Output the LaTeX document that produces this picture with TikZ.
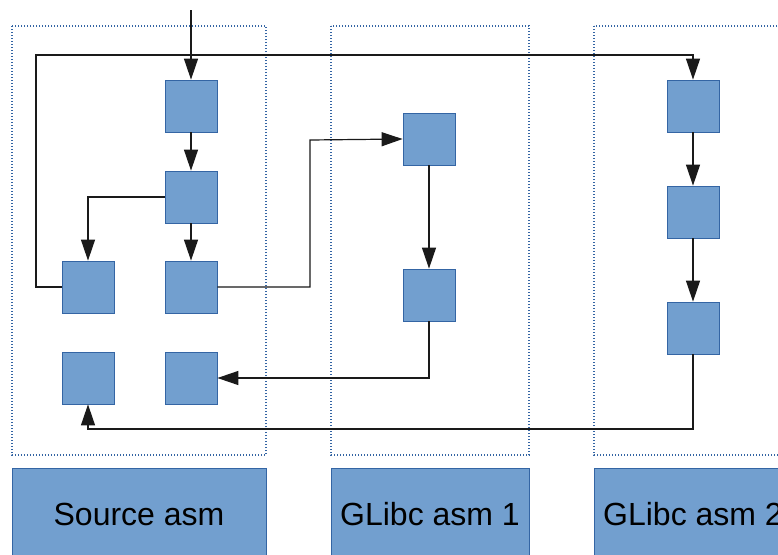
\documentclass[tikz,border=0pt]{standalone}
\usepackage{fontspec}
\setmainfont{Liberation Sans}
\usetikzlibrary{arrows.meta}
\definecolor{boxfill}{HTML}{729FCF}
\definecolor{boxline}{HTML}{3465A4}
\definecolor{wire}{HTML}{1A1A1A}
\tikzset{
  block/.style={draw=boxline, fill=boxfill, line width=0.8pt, minimum width=52pt, minimum height=52pt, inner sep=0pt},
  section/.style={draw=boxline, line width=1.3pt, dash pattern=on 1.4pt off 1.6pt},
  tag/.style={draw=boxline, fill=boxfill, line width=0.8pt, inner sep=0pt, minimum height=92pt, font=\fontsize{32pt}{38pt}\selectfont, text=black},
  flow/.style={draw=wire, line width=1.2pt, -{Triangle[length=21pt,width=14pt]}},
}
\begin{document}
\begin{tikzpicture}[x=1pt, y=-1pt]
\clip (0,0) rectangle (778,554);
\fill[white] (0,0) rectangle (778,554);

% dotted section frames
\draw[section] (12,26) rectangle (266,455);
\draw[section] (331,26) rectangle (529,455);
\draw[section] (594,26) rectangle (792,455);

% section labels
\node[tag, minimum width=254pt] (ls) at (139,514) {Source asm};
\node[tag, minimum width=198pt] (lg1) at (430,514) {GLibc asm 1};
\node[tag, minimum width=198pt] (lg2) at (693,514) {GLibc asm 2};

% blocks
\node[block] (a) at (191,106) {};
\node[block] (b) at (191,197) {};
\node[block] (c) at (88,287) {};
\node[block] (d) at (191,287) {};
\node[block] (e) at (88,378) {};
\node[block] (f) at (191,378) {};
\node[block] (g) at (429,139) {};
\node[block] (h) at (429,295) {};
\node[block] (i) at (693,106) {};
\node[block] (j) at (693,212) {};
\node[block] (k) at (693,328) {};

\coordinate (entry) at (191,10);

% connectors
\draw[flow] (entry) -- (a.north);
\draw[flow] (a) -- (b);
\draw[flow] (b.west) -| (c.north);
\draw[flow] (b) -- (d);
\draw[flow] (c.west) -- (36,287) -- (36,55) -| (i.north);
\draw[flow] (d.east) -- (310,287) -- (310,140) -- (g.west);
\draw[flow] (g) -- (h);
\draw[flow] (h.south) |- (f.east);
\draw[flow] (i) -- (j);
\draw[flow] (j) -- (k);
\draw[flow] (k.south) -- (693,429) -| (e.south);
\end{tikzpicture}
\end{document}
